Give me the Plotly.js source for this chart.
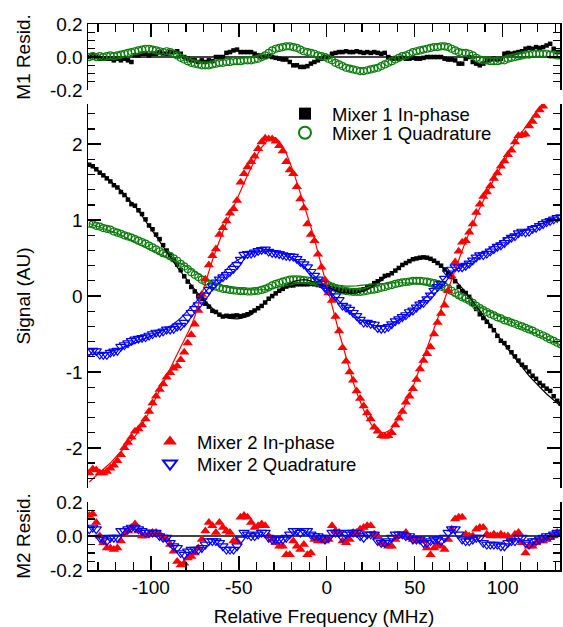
<!DOCTYPE html>
<html><head><meta charset="utf-8">
<script src="https://cdn.plot.ly/plotly-3.0.1.min.js"></script>
<style>html,body{margin:0;padding:0;background:#fff}#chart{width:563px;height:627px}</style>
</head><body><div id="chart"></div>
<script>
const freq = [-135,-133,-131,-129,-127,-125,-123,-121,-119,-117,-115,-113,-111,-109,-107,-105,-103,-101,-99,-97,-95,-93,-91,-89,-87,-85,-83,-81,-79,-77,-75,-73,-71,-69,-67,-65,-63,-61,-59,-57,-55,-53,-51,-49,-47,-45,-43,-41,-39,-37,-35,-33,-31,-29,-27,-25,-23,-21,-19,-17,-15,-13,-11,-9,-7,-5,-3,-1,1,3,5,7,9,11,13,15,17,19,21,23,25,27,29,31,33,35,37,39,41,43,45,47,49,51,53,55,57,59,61,63,65,67,69,71,73,75,77,79,81,83,85,87,89,91,93,95,97,99,101,103,105,107,109,111,113,115,117,119,121,123,125,127,129,131,133];

// Mixer 1 In-phase: fit and residual
const fitM1I = [1.73,1.70,1.67,1.635,1.60,1.56,1.52,1.48,1.44,1.39,
1.34,1.29,1.24,1.18,1.12,1.06,0.99,0.92,0.86,0.79,
0.72,0.65,0.58,0.51,0.45,0.38,0.32,0.26,0.20,0.14,
0.08,0.03,-0.02,-0.07,-0.12,-0.17,-0.21,-0.245,-0.27,-0.285,
-0.295,-0.30,-0.30,-0.295,-0.285,-0.27,-0.245,-0.21,-0.17,-0.13,
-0.085,-0.04,0.0,0.04,0.08,0.11,0.14,0.17,0.19,0.205,
0.215,0.215,0.21,0.20,0.185,0.165,0.145,0.125,0.105,0.085,
0.07,0.055,0.045,0.04,0.035,0.035,0.04,0.05,0.065,0.085,
0.11,0.14,0.17,0.205,0.24,0.275,0.31,0.345,0.38,0.415,
0.445,0.47,0.49,0.505,0.515,0.515,0.505,0.49,0.465,0.435,
0.40,0.36,0.315,0.265,0.215,0.16,0.105,0.05,-0.01,-0.07,
-0.13,-0.19,-0.25,-0.32,-0.38,-0.44,-0.51,-0.58,-0.64,-0.70,
-0.76,-0.82,-0.88,-0.94,-0.99,-1.05,-1.10,-1.15,-1.20,-1.24,
-1.29,-1.33,-1.37,-1.41,-1.45];
const residM1I = [0.0,0.01,0.0,-0.01,-0.01,-0.01,-0.01,-0.02,-0.01,-0.02,
-0.01,-0.02,-0.03,0.01,0.01,0.02,0.02,0.01,0.02,0.02,
0.03,0.02,0.02,0.03,0.03,0.035,0.02,0.0,-0.01,-0.02,
-0.02,-0.03,-0.02,-0.03,-0.02,-0.025,0.0,0.0,0.0,0.025,
0.03,0.04,0.045,0.03,0.03,0.03,0.03,0.02,0.01,0.0,
0.0,0.005,0.0,-0.005,-0.01,-0.015,-0.015,-0.03,-0.05,-0.05,
-0.06,-0.06,-0.055,-0.04,-0.03,-0.02,-0.01,0.0,0.0,0.02,
0.025,0.03,0.03,0.035,0.03,0.03,0.035,0.03,0.025,0.03,
0.025,0.03,0.025,0.02,0.025,0.0,-0.01,-0.01,-0.01,-0.005,
-0.01,-0.01,-0.005,-0.01,-0.01,-0.005,0.0,0.0,0.0,0.0,
0.0,-0.01,-0.015,-0.015,-0.02,-0.04,-0.04,-0.01,0.0,-0.03,
-0.04,-0.05,-0.04,-0.02,-0.015,-0.01,-0.015,-0.01,0.02,0.025,
0.02,0.025,0.03,0.035,0.05,0.055,0.05,0.06,0.055,0.06,
0.07,0.08,0.05,0.03,0.03];

// Mixer 1 Quadrature
const fitM1Q = [0.955,0.94,0.925,0.91,0.895,0.88,0.865,0.845,0.825,0.805,
0.78,0.76,0.74,0.715,0.69,0.665,0.64,0.615,0.595,0.575,
0.555,0.535,0.515,0.495,0.475,0.455,0.43,0.405,0.38,0.35,
0.32,0.295,0.265,0.24,0.21,0.185,0.165,0.145,0.13,0.12,
0.11,0.10,0.095,0.09,0.085,0.08,0.08,0.08,0.08,0.08,
0.085,0.09,0.10,0.11,0.12,0.13,0.14,0.15,0.16,0.165,
0.17,0.175,0.175,0.175,0.175,0.17,0.165,0.16,0.15,0.145,
0.14,0.135,0.13,0.13,0.13,0.13,0.135,0.14,0.145,0.15,
0.155,0.155,0.16,0.165,0.165,0.17,0.17,0.175,0.175,0.175,
0.175,0.17,0.17,0.165,0.16,0.15,0.14,0.125,0.11,0.10,
0.08,0.06,0.04,0.02,0.0,-0.02,-0.04,-0.06,-0.08,-0.10,
-0.125,-0.145,-0.165,-0.19,-0.21,-0.23,-0.255,-0.275,-0.30,-0.32,
-0.345,-0.365,-0.39,-0.41,-0.435,-0.455,-0.475,-0.50,-0.52,-0.54,
-0.565,-0.585,-0.605,-0.625,-0.645];
const residM1Q = [0.0,0.005,0.0,0.005,0.0,0.005,0.01,0.005,0.01,0.015,
0.02,0.025,0.03,0.035,0.04,0.045,0.05,0.05,0.045,0.04,
0.035,0.03,0.035,0.03,0.02,0.01,-0.005,-0.015,-0.025,-0.035,
-0.04,-0.045,-0.05,-0.05,-0.05,-0.045,-0.04,-0.035,-0.035,-0.03,
-0.03,-0.025,-0.025,-0.025,-0.02,-0.02,-0.02,-0.015,-0.01,0.0,
0.01,0.025,0.04,0.05,0.055,0.06,0.065,0.065,0.06,0.055,
0.045,0.035,0.03,0.025,0.02,0.01,0.005,0.0,-0.01,-0.02,
-0.035,-0.045,-0.055,-0.065,-0.07,-0.075,-0.08,-0.085,-0.085,-0.08,
-0.075,-0.07,-0.065,-0.055,-0.045,-0.035,-0.025,-0.015,-0.005,0.005,
0.01,0.02,0.03,0.035,0.04,0.045,0.05,0.055,0.06,0.06,
0.065,0.065,0.06,0.05,0.04,0.03,0.025,0.025,0.02,0.01,
-0.005,-0.015,-0.02,-0.02,-0.025,-0.025,-0.025,-0.02,-0.02,-0.01,
-0.005,0.0,0.005,0.01,0.015,0.015,0.02,0.02,0.02,0.02,
0.02,0.015,0.015,0.01,0.01];

// Mixer 2 In-phase
const fitM2I = [-2.45,-2.41,-2.37,-2.33,-2.29,-2.24,-2.20,-2.15,-2.10,-2.06,
-2.01,-1.96,-1.91,-1.85,-1.78,-1.70,-1.62,-1.53,-1.43,-1.34,
-1.24,-1.15,-1.05,-0.96,-0.86,-0.77,-0.67,-0.58,-0.49,-0.39,
-0.27,-0.12,0.04,0.19,0.33,0.47,0.60,0.73,0.85,0.96,
1.07,1.18,1.29,1.39,1.49,1.59,1.69,1.79,1.88,1.96,
2.02,2.07,2.09,2.08,2.04,1.97,1.88,1.77,1.64,1.50,
1.36,1.21,1.06,0.91,0.75,0.58,0.41,0.24,0.06,-0.12,
-0.30,-0.48,-0.65,-0.82,-0.98,-1.13,-1.27,-1.39,-1.50,-1.60,
-1.68,-1.74,-1.78,-1.80,-1.80,-1.78,-1.74,-1.68,-1.61,-1.52,
-1.42,-1.31,-1.20,-1.07,-0.94,-0.82,-0.69,-0.56,-0.43,-0.30,
-0.17,-0.04,0.09,0.22,0.35,0.48,0.60,0.72,0.84,0.95,
1.06,1.16,1.26,1.36,1.45,1.54,1.62,1.70,1.78,1.86,
1.94,2.02,2.09,2.16,2.23,2.30,2.36,2.42,2.48,2.53,
2.58,2.62,2.66,2.70,2.74];
const residM2I = [0.12,0.13,0.08,0.0,-0.04,-0.07,-0.07,-0.08,-0.07,-0.03,
0.01,0.03,0.05,0.07,0.03,0.0,0.0,0.01,0.02,0.02,
0.01,-0.01,-0.02,-0.05,-0.09,-0.15,-0.17,-0.16,-0.13,-0.12,
-0.1,-0.07,-0.02,0.03,0.08,0.06,0.02,0.08,0.05,0.03,
0.02,-0.03,-0.03,0.11,0.12,0.11,0.08,0.05,0.06,0.07,
0.06,0.0,-0.02,-0.04,-0.06,-0.06,-0.11,-0.11,-0.03,-0.06,
-0.08,-0.05,-0.11,-0.1,-0.02,-0.03,-0.03,-0.03,-0.02,0.06,
0.03,0.02,-0.03,-0.04,-0.02,0.02,0.02,0.04,0.05,0.06,
0.06,0.01,0.0,-0.04,-0.05,-0.06,-0.06,-0.02,0.0,0.0,
0.02,-0.01,-0.02,-0.03,-0.02,-0.03,-0.07,-0.11,-0.07,-0.05,
-0.06,-0.08,-0.02,0.04,0.1,0.11,0.11,0.01,0.0,0.0,
0.04,0.05,0.05,0.01,0.0,0.01,0.0,0.01,0.0,0.0,
-0.02,0.01,0.02,-0.04,-0.1,-0.06,-0.06,-0.04,-0.03,-0.03,
-0.02,-0.01,0.0,0.02,0.02];

// Mixer 2 Quadrature
const fitM2Q = [-0.77,-0.77,-0.765,-0.76,-0.755,-0.745,-0.735,-0.72,-0.71,-0.695,
-0.675,-0.66,-0.64,-0.62,-0.60,-0.58,-0.56,-0.54,-0.52,-0.50,
-0.48,-0.455,-0.43,-0.40,-0.37,-0.33,-0.29,-0.24,-0.19,-0.14,
-0.09,-0.04,0.01,0.06,0.11,0.16,0.21,0.26,0.31,0.36,
0.40,0.44,0.47,0.50,0.525,0.545,0.56,0.575,0.585,0.59,
0.595,0.595,0.59,0.585,0.575,0.56,0.54,0.515,0.49,0.46,
0.43,0.39,0.35,0.31,0.27,0.22,0.175,0.13,0.08,0.03,
-0.02,-0.07,-0.115,-0.16,-0.20,-0.24,-0.28,-0.31,-0.34,-0.36,
-0.375,-0.385,-0.39,-0.39,-0.385,-0.375,-0.36,-0.34,-0.315,-0.285,
-0.25,-0.21,-0.17,-0.13,-0.09,-0.05,0.0,0.04,0.09,0.14,
0.19,0.24,0.28,0.31,0.34,0.37,0.40,0.43,0.46,0.49,
0.52,0.55,0.58,0.61,0.64,0.67,0.70,0.73,0.76,0.78,
0.80,0.82,0.84,0.86,0.88,0.90,0.915,0.93,0.945,0.96,
0.975,0.99,1.0,1.01,1.02];
const residM2Q = [0.04,0.05,0.04,-0.01,-0.02,-0.03,-0.01,-0.01,-0.01,0.03,
0.03,0.04,0.05,0.05,0.04,0.03,0.02,0.02,0.02,0.02,
0.0,-0.01,-0.01,-0.04,-0.06,-0.07,-0.1,-0.11,-0.09,-0.08,
-0.08,-0.08,-0.07,-0.05,-0.03,-0.03,-0.03,-0.04,-0.06,-0.08,
-0.08,-0.08,-0.06,-0.02,0.02,0.01,0.0,0.0,0.01,0.02,
0.02,-0.01,-0.02,-0.02,-0.02,-0.02,-0.01,0.01,0.03,0.03,
0.02,0.03,0.03,0.01,0.0,0.0,-0.01,-0.02,-0.01,0.02,
0.02,0.02,-0.01,0.01,0.02,0.02,0.02,0.0,-0.01,0.01,
0.01,0.01,-0.03,-0.04,-0.04,-0.03,-0.01,0.01,0.01,0.01,
0.0,0.0,-0.02,-0.02,-0.02,-0.04,-0.04,-0.03,-0.02,-0.02,
-0.03,-0.01,0.02,0.04,0.04,0.01,-0.02,-0.03,-0.03,-0.02,
-0.01,-0.01,-0.04,-0.05,-0.05,-0.05,-0.05,-0.06,-0.06,-0.04,
-0.03,-0.03,-0.01,-0.01,-0.04,-0.05,-0.03,-0.03,-0.02,-0.01,
0.0,0.0,0.01,0.02,0.02];

const seriesNames = ['Mixer 1 In-phase','Mixer 1 Quadrature','Mixer 2 In-phase','Mixer 2 Quadrature'];
const xTickVals = [-100,-50,0,50,100];
const xTickText = ['-100','-50','0','50','100'];
const residTickVals = [-0.2,0,0.2];
const residTickText = ['-0.2','0.0','0.2'];
const sigTickVals = [-2,-1,0,1,2];
const sigTickText = ['-2','-1','0','1','2'];

const add = (f,r) => f.map((v,i)=>v+r[i]);
const dataM1I = add(fitM1I,residM1I);
const dataM1Q = add(fitM1Q,residM1Q);
const dataM2I = add(fitM2I,residM2I);
const dataM2Q = add(fitM2Q,residM2Q);

const GREEN = '#0a7d0a';
const FONT = '"Liberation Sans", Arial, sans-serif';

const mk = {
  m1i: {symbol:'square', size:4.5, color:'#000'},
  m1q: {symbol:'circle-open', size:7, color:GREEN, line:{width:1.2, color:GREEN}},
  m2i: {symbol:'triangle-up', size:9, color:'#ff0000'},
  m2q: {symbol:'triangle-down-open', size:9, color:'#0000ff', line:{width:1.2, color:'#0000ff'}}
};

const traces = [
  // main panel
  {x:freq, y:dataM1I, xaxis:'x2', yaxis:'y2', mode:'markers', marker:mk.m1i, name:seriesNames[0], legend:'legend', cliponaxis:true},
  {x:freq, y:dataM1Q, xaxis:'x2', yaxis:'y2', mode:'markers', marker:mk.m1q, name:seriesNames[1], legend:'legend2', cliponaxis:true},
  {x:freq, y:dataM2I, xaxis:'x2', yaxis:'y2', mode:'markers', marker:mk.m2i, name:seriesNames[2], legend:'legend3', cliponaxis:true},
  {x:freq, y:dataM2Q, xaxis:'x2', yaxis:'y2', mode:'markers', marker:mk.m2q, name:seriesNames[3], legend:'legend4', cliponaxis:true},
  {x:freq, y:fitM1I, xaxis:'x2', yaxis:'y2', mode:'lines', line:{color:'#000', width:1.2}, showlegend:false},
  {x:freq, y:fitM1Q, xaxis:'x2', yaxis:'y2', mode:'lines', line:{color:GREEN, width:1.2}, showlegend:false},
  {x:freq, y:fitM2I, xaxis:'x2', yaxis:'y2', mode:'lines', line:{color:'#ff0000', width:1.2}, showlegend:false},
  {x:freq, y:fitM2Q, xaxis:'x2', yaxis:'y2', mode:'lines', line:{color:'#0000ff', width:1.2}, showlegend:false},
  // top residuals
  {x:freq, y:residM1I, xaxis:'x3', yaxis:'y3', mode:'markers', marker:mk.m1i, showlegend:false, cliponaxis:true},
  {x:freq, y:residM1Q, xaxis:'x3', yaxis:'y3', mode:'markers', marker:mk.m1q, showlegend:false, cliponaxis:true},
  // bottom residuals
  {x:freq, y:residM2I, xaxis:'x', yaxis:'y', mode:'markers', marker:mk.m2i, showlegend:false, cliponaxis:true},
  {x:freq, y:residM2Q, xaxis:'x', yaxis:'y', mode:'markers', marker:mk.m2q, showlegend:false, cliponaxis:true}
];

const tickCommon = {
  showline:true, linecolor:'#000', linewidth:1.5, ticks:'inside', tickwidth:1.5,
  tickcolor:'#000', showgrid:false, automargin:false,
  tickfont:{size:19, color:'#000', family:FONT}
};
const residY = (title, domain, anchor, standoff) => Object.assign({}, tickCommon, {
  domain, anchor, range:[-0.2,0.2], mirror:'ticks', ticklen:13,
  tickmode:'array', tickvals:residTickVals, ticktext:residTickText,
  minor:{dtick:0.05, tick0:0, ticklen:7, tickwidth:1.2, ticks:'inside', tickcolor:'#000', showgrid:false},
  zeroline:true, zerolinecolor:'#444', zerolinewidth:1.5,
  title:{text:title, font:{size:19, color:'#000', family:FONT}, standoff}
});
const xMinor = {dtick:10, tick0:0, ticklen:8, tickwidth:1.2, ticks:'inside', tickcolor:'#000', showgrid:false};
const XRANGE = [-135.7, 132.6];

const legendBase = {xanchor:'left', yanchor:'middle', bgcolor:'rgba(0,0,0,0)', borderwidth:0,
  font:{size:18.5, color:'#000', family:FONT}, itemwidth:44, itemsizing:'constant', itemclick:false, itemdoubleclick:false};

const layout = {
  width:563, height:627,
  margin:{l:88, r:3, t:24, b:57},
  paper_bgcolor:'#fff', plot_bgcolor:'#fff',
  font:{family:FONT, color:'#000'},
  showlegend:true,
  xaxis: Object.assign({}, tickCommon, {
    domain:[0,1], anchor:'y', range:XRANGE, ticklen:14,
    tickmode:'array', tickvals:xTickVals, ticktext:xTickText, minor:xMinor, zeroline:false,
    title:{text:'Relative Frequency (MHz)', font:{size:19, color:'#000', family:FONT}, standoff:12}
  }),
  xaxis2: {anchor:'y2', matches:'x', range:XRANGE, visible:false, showgrid:false, zeroline:false},
  xaxis3: Object.assign({}, tickCommon, {
    anchor:'y3', matches:'x', range:XRANGE, side:'top', ticklen:13,
    tickmode:'array', tickvals:xTickVals, ticktext:xTickText, showticklabels:false, minor:xMinor, zeroline:false
  }),
  yaxis: residY('M2 Resid.', [0, 0.1245], 'x', 14),
  yaxis3: residY('M1 Resid.', [0.879, 1], 'x3', 14),
  yaxis2: Object.assign({}, tickCommon, {
    domain:[0.150, 0.8535], anchor:'x2', range:[-2.53, 2.53], mirror:'ticks', ticklen:13,
    tickmode:'array', tickvals:sigTickVals, ticktext:sigTickText,
    minor:{dtick:0.2, tick0:0, ticklen:7, tickwidth:1.2, ticks:'inside', tickcolor:'#000', showgrid:false},
    zeroline:false,
    title:{text:'Signal (AU)', font:{size:19, color:'#000', family:FONT}, standoff:30}
  }),
  legend: Object.assign({}, legendBase, {x:0.4025, y:0.835}),
  legend2: Object.assign({}, legendBase, {x:0.4025, y:0.800}),
  legend3: Object.assign({}, legendBase, {x:0.1165, y:0.2344}),
  legend4: Object.assign({}, legendBase, {x:0.1165, y:0.194})
};

Plotly.newPlot('chart', traces, layout, {staticPlot:true, displayModeBar:false});
</script>
</body></html>
